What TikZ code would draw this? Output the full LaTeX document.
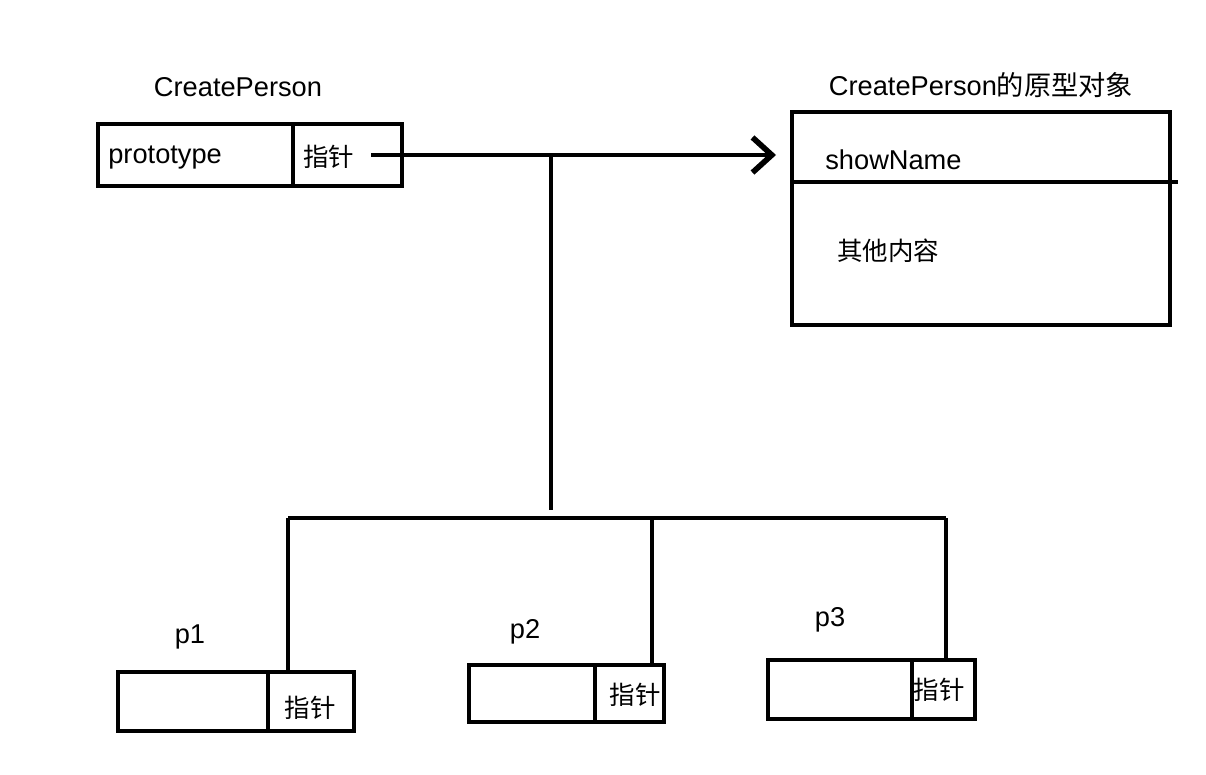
\documentclass[tikz,border=0pt]{standalone}
\usepackage{fontspec}
\setmainfont{Liberation Sans}
\newfontfamily\cjk{Noto Sans CJK SC}
\usepackage{tikz}
\usetikzlibrary{arrows.meta,calc}

\begin{document}
\begin{tikzpicture}[x=0.02cm, y=-0.02cm,
    cell/.style={draw, line width=2.2pt, inner sep=0pt, anchor=north west},
    wire/.style={line width=2.2pt},
    txt/.style={inner sep=0pt, font=\fontsize{15.5}{18}\selectfont},
    zh/.style={inner sep=0pt, font=\cjk\fontsize{14.5}{17}\selectfont}]

                    \useasboundingbox (0,0) rectangle (1206,774);

                    % CreatePerson
                    \node[txt] (cpT) at (238,87) {CreatePerson};
                    \node[cell, minimum width=3.9cm, minimum height=1.24cm] (cpL) at (96,122) {};
                    \node[cell, minimum width=2.18cm, minimum height=1.24cm] (cpR) at (291,122) {};
                    \node[txt, anchor=west] (proto) at (108,158) {prototype};
                    \node[zh, anchor=west] (ptr0) at (303,157) {指针};

                    % prototype object
                    \node[txt] (objT) at (981,85) {CreatePerson{\cjk 的原型对象}};
                    \node[cell, minimum width=7.56cm, minimum height=4.26cm] (obj) at (790,110) {};
                    \draw[wire] (obj.west |- 0,182) -- (1178,182);
                    \node[txt, anchor=west] (show) at (825,160) {showName};
                    \node[zh, anchor=west] (other) at (837,251) {其他内容};

                    % instances
                    \node[txt] (p1T) at (190,637) {p1};
                    \node[cell, minimum width=3.0cm, minimum height=1.18cm] (p1L) at (116,670) {};
                    \node[cell, minimum width=1.72cm, minimum height=1.18cm] (p1R) at (266,670) {};
                    \node[zh] (ptr1) at (310,708) {指针};

                    \node[txt] (p2T) at (525,632) {p2};
                    \node[cell, minimum width=2.52cm, minimum height=1.14cm] (p2L) at (467,663) {};
                    \node[cell, minimum width=1.38cm, minimum height=1.14cm] (p2R) at (593,663) {};
                    \node[zh] (ptr2) at (635,695) {指针};

                    \node[txt] (p3T) at (830,620) {p3};
                    \node[cell, minimum width=2.88cm, minimum height=1.18cm] (p3L) at (766,658) {};
                    \node[cell, minimum width=1.26cm, minimum height=1.18cm] (p3R) at (910,658) {};
                    \node[zh] (ptr3) at (939,690) {指针};

                    % links
                    \coordinate (src) at (371,155);
                    \coordinate (tip) at (776,155);
                    \coordinate (hub) at (551,155);
                    \coordinate (stem) at (551,510);
                    \coordinate (busL) at (288,518);
                    \coordinate (bus2) at (652,518);
                    \coordinate (busR) at (946,518);

                    \draw[wire, -{Straight Barb[length=11pt, width=20pt, line width=3.2pt]}] (src) -- (tip);
                    \draw[wire] (hub) -- (stem);
                    \draw[wire] (busL) -- (busR);
                    \draw[wire] (busL) -- (busL |- p1R.north);
                    \draw[wire] (bus2) -- (bus2 |- p2R.north);
                    \draw[wire] (busR) -- (busR |- p3R.north);

                \end{tikzpicture}
\end{document}
